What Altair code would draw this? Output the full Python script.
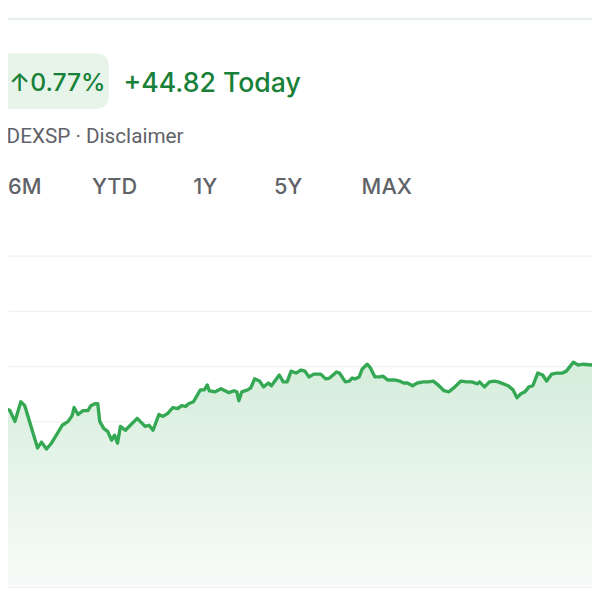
import altair as alt
import pandas as pd

# ---- data (x = trading-day position, value = index level) ----
day = [0, 3, 6, 10, 15, 21, 25, 31, 34, 38, 42, 47, 52, 57, 63, 69, 73, 75, 79, 84,
       89, 92, 96, 99, 101, 105, 109, 113, 116, 119, 122, 127, 132, 139, 144, 147, 151, 155, 161, 165,
       170, 175, 180, 184, 188, 191, 196, 203, 207, 210, 212, 218, 224, 232, 237, 240, 242, 245, 251, 254,
       258, 263, 267, 272, 275, 283, 287, 291, 295, 300, 305, 309, 313, 318, 325, 330, 334, 341, 344, 350,
       354, 357, 360, 364, 367, 372, 375, 380, 385, 388, 393, 400, 405, 409, 413, 418, 423, 429, 434, 439,
       444, 450, 455, 461, 467, 473, 478, 484, 486, 491, 496, 501, 505, 515, 520, 524, 528, 532, 536, 540,
       545, 550, 554, 559, 564, 570, 574, 578, 581, 586, 591, 600]
value = [5725, 5725, 5646, 5639, 5600, 5671, 5657, 5586, 5550, 5504, 5525, 5500, 5521, 5550, 5586, 5600, 5621, 5650, 5625, 5639,
         5639, 5657, 5664, 5664, 5600, 5575, 5564, 5532, 5550, 5521, 5582, 5568, 5586, 5611, 5593, 5582, 5586, 5568, 5625, 5618,
         5629, 5650, 5646, 5657, 5654, 5664, 5671, 5714, 5714, 5732, 5711, 5707, 5718, 5704, 5711, 5707, 5675, 5707, 5714, 5721,
         5754, 5746, 5725, 5739, 5729, 5768, 5743, 5743, 5782, 5775, 5786, 5782, 5761, 5771, 5771, 5754, 5757, 5779, 5775, 5743,
         5746, 5757, 5754, 5761, 5789, 5807, 5796, 5761, 5761, 5764, 5750, 5750, 5746, 5739, 5739, 5729, 5739, 5743, 5743, 5746,
         5732, 5711, 5707, 5725, 5746, 5743, 5743, 5736, 5743, 5725, 5743, 5746, 5743, 5729, 5714, 5686, 5700, 5707, 5725, 5729,
         5775, 5768, 5746, 5771, 5775, 5775, 5782, 5800, 5814, 5804, 5807, 5804]
grid_values = [5000, 5200, 5400, 5600, 5800, 6000, 6200]
baseline_value = 5000

change_pct = "↑0.77%"
change_abs = "+44.82 Today"
source_text = "DEXSP · Disclaimer"
tabs = ["6M", "YTD", "1Y", "5Y", "MAX"]
tab_centers = [25, 116, 208, 292, 392]

df = pd.DataFrame({"day": day, "value": value})
tabs_df = pd.DataFrame({"tab": tabs, "cx": tab_centers})
one = pd.DataFrame({"k": [0]})

GREEN_TEXT = "#188038"
LINE = "#34a853"
GRAY = "#5f6368"
OFF = 8  # page margin: reference pixel -> plot pixel

x_enc = alt.X("day:Q", scale=alt.Scale(domain=[8, 600], nice=False, zero=False), axis=None)
y_scale = alt.Scale(domain=[4967.857, 7082.143], nice=False, zero=False)

area = alt.Chart(df).mark_area(
    clip=True,
    color=alt.Gradient(
        gradient="linear",
        stops=[alt.GradientStop(color="#d5eddb", offset=0),
               alt.GradientStop(color="#f8fbf9", offset=1)],
        x1=1, x2=1, y1=0, y2=1,
    ),
).encode(
    x=x_enc,
    y=alt.Y("value:Q", scale=y_scale,
            axis=alt.Axis(values=grid_values, labels=False, ticks=False, domain=False,
                          grid=True, gridColor="#eef1f0", gridWidth=1.2, title=None)),
    y2=alt.datum(baseline_value),
)

line = alt.Chart(df).mark_line(clip=True, color=LINE, strokeWidth=3.4, strokeJoin="round", strokeCap="round").encode(
    x=x_enc,
    y=alt.Y("value:Q", scale=y_scale),
)

sep = alt.Chart(one).mark_rule(color="#e6efe9", strokeWidth=2).encode(
    x=alt.value(-10), x2=alt.value(600), y=alt.value(15 - OFF)
)

pill = alt.Chart(one).mark_rect(color="#e6f4ea", cornerRadius=11).encode(
    x=alt.value(-30), x2=alt.value(110 - OFF), y=alt.value(50 - OFF), y2=alt.value(106 - OFF)
)

pct = alt.Chart(one).mark_text(
    text=change_pct, align="left", baseline="alphabetic", font="Inter", fontSize=25,
    fontWeight=500, color=GREEN_TEXT
).encode(x=alt.value(9 - OFF), y=alt.value(88 - OFF))

today = alt.Chart(one).mark_text(
    text=change_abs, align="left", baseline="alphabetic", font="Inter", fontSize=27,
    fontWeight=500, color=GREEN_TEXT
).encode(x=alt.value(125 - OFF), y=alt.value(89 - OFF))

src = alt.Chart(one).mark_text(
    text=source_text, align="right", baseline="alphabetic", font="Roboto", fontSize=21,
    color=GRAY
).encode(x=alt.value(186 - OFF), y=alt.value(141 - OFF))

tab_text = alt.Chart(tabs_df).mark_text(
    align="center", baseline="alphabetic", font="Inter", fontSize=22, fontWeight=500, color=GRAY
).encode(
    x=alt.X("cx:Q", scale=alt.Scale(domain=[OFF, 600], nice=False, zero=False), axis=None),
    y=alt.value(192 - OFF),
    text="tab:N",
)

chart = alt.layer(area, line, sep, pill, pct, today, src, tab_text).resolve_scale(x="independent").properties(
    width=592, height=592, padding=0, autosize=alt.AutoSizeParams(type="none"), background="white"
).configure_view(stroke=None)

chart.save("out.html", embed_options={"renderer": "svg", "actions": False})
